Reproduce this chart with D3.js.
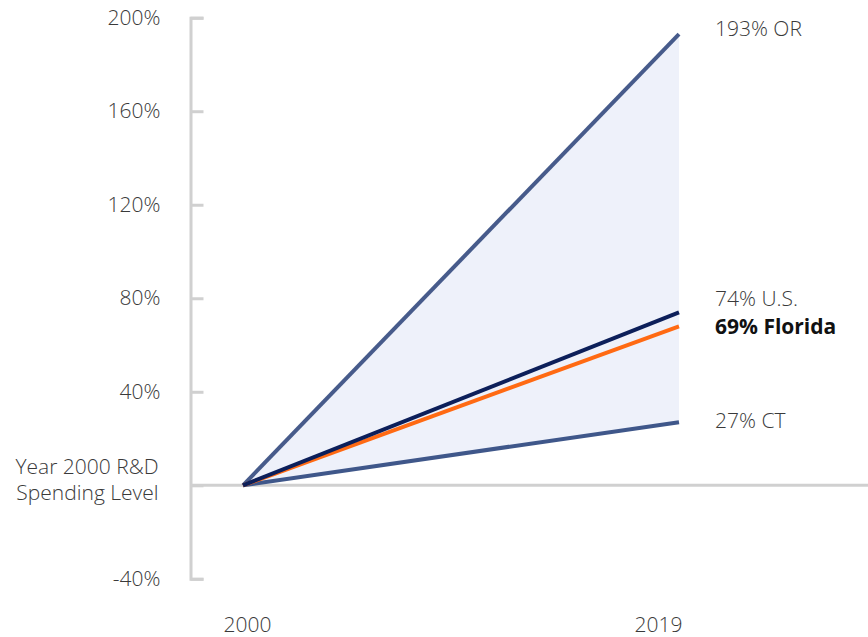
<!DOCTYPE html>
<html>
<head>
<meta charset="utf-8">
<script src="https://cdn.jsdelivr.net/npm/d3@7"></script>
<style>
  html, body { margin: 0; padding: 0; background: #fff; }
  svg { display: block; font-family: "Open Sans", "Noto Sans", sans-serif; }
</style>
</head>
<body>
<svg id="chart" width="868" height="637"></svg>
<script>
// ---- data ----
const years = [2000, 2019];
const seriesNames = ["OR", "CT", "Florida", "U.S."];
const orValues = [0, 193];
const ctValues = [0, 27];
const floridaValues = [0, 68];
const usValues = [0, 74];
const endLabels = ["193% OR", "27% CT", "69% Florida", "74% U.S."];
const yTickValues = [-40, 0, 40, 80, 120, 160, 200];
const zeroLabelLines = ["Year 2000 R&D", "Spending Level"];

// ---- layout ----
const svg = d3.select("#chart");
const axisX = 190.5;
const FONT = "'Open Sans', sans-serif";
const FS = "21px";
const x = d3.scaleLinear().domain([2000, 2019]).range([243, 679]);
const pxPerPct = (485.3 - 17.7) / 200;
const y = d3.scaleLinear().domain([-40, 200]).range([485.3 + 40 * pxPerPct, 17.7]);

const seriesList = [
  { name: "OR", values: orValues, label: endLabels[0], color: "#475b8b", width: 4, dy: -5, bold: false },
  { name: "CT", values: ctValues, label: endLabels[1], color: "#3f578a", width: 4, dy: -2, bold: false },
  { name: "Florida", values: floridaValues, label: endLabels[2], color: "#ff6a13", width: 4, dy: 0, bold: true },
  { name: "U.S.", values: usValues, label: endLabels[3], color: "#0c1f5a", width: 4, dy: -14, bold: false }
];

// shaded range between OR and CT
const area = d3.area()
  .x((d, i) => x(years[i]))
  .y0((d, i) => y(ctValues[i]))
  .y1((d, i) => y(orValues[i]));
svg.append("path")
  .datum(years)
  .attr("d", area)
  .attr("fill", "#eef1fa");

// y axis
const yAxis = d3.axisLeft(y)
  .tickValues(yTickValues)
  .tickSizeInner(-13)
  .tickSizeOuter(-13)
  .tickPadding(30)
  .tickFormat(d => d === 0 ? "" : d + "%");
const gy = svg.append("g").attr("transform", `translate(${axisX},0)`).call(yAxis);
gy.select(".domain").attr("stroke", "#d0d0d0").attr("stroke-width", 3).attr("fill", "none");
gy.selectAll(".tick line").attr("stroke", "#d0d0d0").attr("stroke-width", 3);
gy.selectAll(".tick text")
  .attr("fill", "#3a3a3a")
  .style("font-size", FS)
  .style("font-weight", 300)
  .style("font-family", FONT);

// zero label (two lines)
const zt = gy.selectAll(".tick").filter(d => d === 0).select("text");
zt.attr("x", -32).attr("dy", null);
zeroLabelLines.forEach((t, i) => {
  zt.append("tspan").attr("x", -32).attr("y", i === 0 ? -19 : 7).attr("dy", "0.35em").text(t);
});

// zero line
svg.append("line")
  .attr("x1", axisX).attr("x2", 868)
  .attr("y1", y(0)).attr("y2", y(0))
  .attr("stroke", "#d0d0d0").attr("stroke-width", 3);

// x axis labels
const xAxis = d3.axisBottom(x).tickValues(years).tickSize(0).tickPadding(0).tickFormat(d3.format("d"));
const gx = svg.append("g").attr("transform", "translate(0,625)").call(xAxis);
gx.select(".domain").remove();
gx.selectAll(".tick text")
  .attr("fill", "#3a3a3a")
  .style("font-size", FS)
  .style("font-weight", 300)
  .style("font-family", FONT)
  .attr("text-anchor", d => d === 2019 ? "end" : "middle")
  .attr("x", d => d === 2019 ? 3 : 4)
  .attr("dy", "0.35em");

// lines
const line = d3.line().x((d, i) => x(years[i])).y(d => y(d));
seriesList.forEach(s => {
  svg.append("path")
    .datum(s.values)
    .attr("d", line)
    .attr("fill", "none")
    .attr("stroke", s.color)
    .attr("stroke-width", s.width)
    .attr("stroke-linecap", "butt");
});

// end labels
seriesList.forEach(s => {
  svg.append("text")
    .attr("x", 715)
    .attr("y", y(s.values[1]) + s.dy)
    .attr("dy", "0.35em")
    .attr("fill", s.bold ? "#111111" : "#3a3a3a")
    .style("font-weight", s.bold ? 700 : 300)
    .style("font-size", FS)
    .style("font-family", FONT)
    .text(s.label);
});
</script>
</body>
</html>
